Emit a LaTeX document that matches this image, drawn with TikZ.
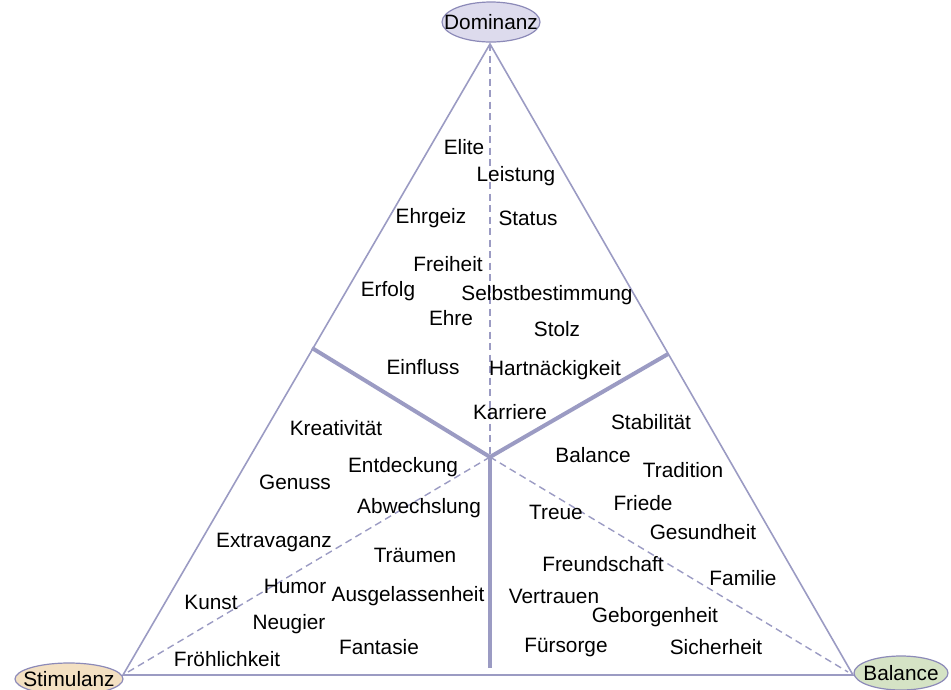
\documentclass[tikz,border=0pt]{standalone}
\usepackage{fontspec}
\setmainfont{Liberation Sans}
\usetikzlibrary{shapes.geometric}
\definecolor{linec}{RGB}{155,155,195}
\definecolor{elborder}{RGB}{140,138,184}
\definecolor{domfill}{RGB}{221,219,237}
\definecolor{stimfill}{RGB}{243,224,194}
\definecolor{balfill}{RGB}{213,227,197}
\tikzset{
  lbl/.style={inner sep=0pt, anchor=center, font=\fontsize{20.8}{24}\selectfont},
  pole/.style={ellipse, draw=elborder, line width=1.2pt, inner sep=0pt},
  side/.style={draw=linec, line width=1.6pt},
  divider/.style={draw=linec, line width=4pt},
  axis/.style={draw=linec, line width=1.4pt, dash pattern=on 7pt off 4.5pt},
}
\begin{document}
\begin{tikzpicture}[x=1pt,y=-1pt]
\useasboundingbox (0,0) rectangle (951,689);
% vertices and junctions
\coordinate (A) at (490,44);
\coordinate (L) at (123,675);
\coordinate (R) at (853,675);
\coordinate (C) at (490,457);
\coordinate (DL) at (312,348);
\coordinate (DR) at (668,354);
\coordinate (DB) at (490,668);
\coordinate (AL) at (128,672);
\coordinate (AR) at (848,672);
% triangle
\draw[side] (A) -- (L) -- (R) -- cycle;
% dashed axes
\draw[axis] (A) -- (C);
\draw[axis] (C) -- (AL);
\draw[axis] (C) -- (AR);
% thick dividers
\draw[divider] (DL) -- (C) -- (DR);
\draw[divider] (C) -- (DB);
% poles
\node[pole, fill=domfill, minimum width=98pt, minimum height=40pt] (dom) at (491,22) {};
\node[lbl] (domt) at (dom.center) {Dominanz};
\node[pole, fill=stimfill, minimum width=108pt, minimum height=32pt] (stim) at (69,679) {};
\node[lbl] (stimt) at (stim.center) {Stimulanz};
\node[pole, fill=balfill, minimum width=94pt, minimum height=34pt] (bal) at (901,673) {};
\node[lbl] (balt) at (bal.center) {Balance};
% words
\node[lbl] (w1) at (464,147) {Elite};
\node[lbl] (w2) at (516,176) {Leistung};
\node[lbl] (w3) at (431,218) {Ehrgeiz};
\node[lbl] (w4) at (528,218) {Status};
\node[lbl] (w5) at (448,264) {Freiheit};
\node[lbl] (w6) at (388,291) {Erfolg};
\node[lbl] (w7) at (547,295) {Selbstbestimmung};
\node[lbl] (w8) at (451,318) {Ehre};
\node[lbl] (w9) at (557,329) {Stolz};
\node[lbl] (w10) at (423,367) {Einfluss};
\node[lbl] (w11) at (555,370) {Hartnäckigkeit};
\node[lbl] (w12) at (510,412) {Karriere};
\node[lbl] (w13) at (336,428) {Kreativität};
\node[lbl] (w14) at (651,422) {Stabilität};
\node[lbl] (w15) at (593,455) {Balance};
\node[lbl] (w16) at (403,467) {Entdeckung};
\node[lbl] (w17) at (683,470) {Tradition};
\node[lbl] (w18) at (295,482) {Genuss};
\node[lbl] (w19) at (643,503) {Friede};
\node[lbl] (w20) at (419,508) {Abwechslung};
\node[lbl] (w21) at (556,512) {Treue};
\node[lbl] (w22) at (703,532) {Gesundheit};
\node[lbl] (w23) at (274,542) {Extravaganz};
\node[lbl] (w24) at (415,555) {Träumen};
\node[lbl] (w25) at (603,564) {Freundschaft};
\node[lbl] (w26) at (743,578) {Familie};
\node[lbl] (w27) at (295,586) {Humor};
\node[lbl] (w28) at (211,602) {Kunst};
\node[lbl] (w29) at (408,596) {Ausgelassenheit};
\node[lbl] (w30) at (554,596) {Vertrauen};
\node[lbl] (w31) at (655,617) {Geborgenheit};
\node[lbl] (w32) at (289,624) {Neugier};
\node[lbl] (w33) at (379,647) {Fantasie};
\node[lbl] (w34) at (566,647) {Fürsorge};
\node[lbl] (w35) at (716,647) {Sicherheit};
\node[lbl] (w36) at (227,659) {Fröhlichkeit};
\end{tikzpicture}
\end{document}
